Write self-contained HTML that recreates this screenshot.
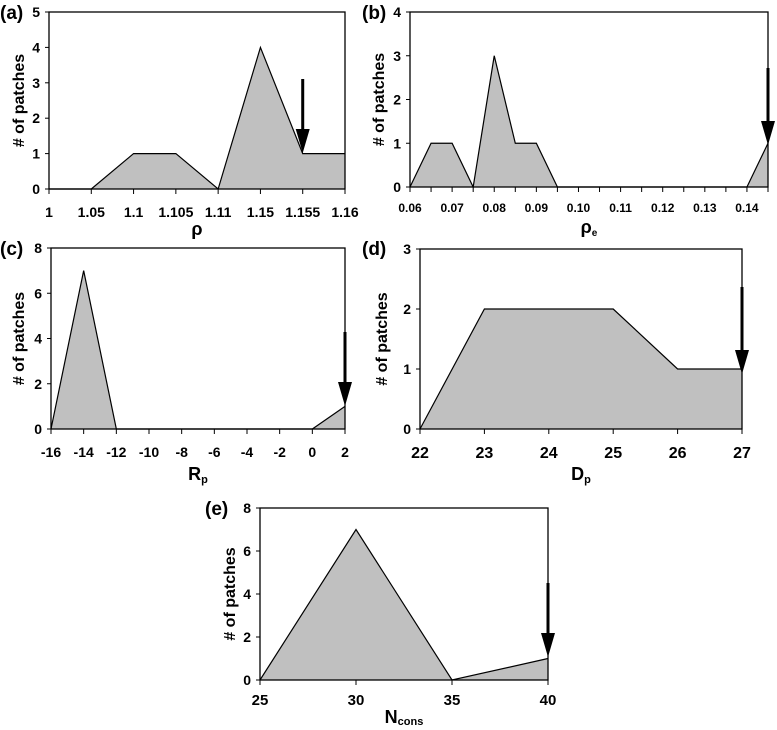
<!DOCTYPE html>
<html><head><meta charset="utf-8"><style>
body{margin:0;background:#fff;}
svg{font-family:"Liberation Sans",Arial,sans-serif;font-weight:bold;}
</style></head><body>
<svg id="fig" width="777" height="725" viewBox="0 0 777 725" xmlns="http://www.w3.org/2000/svg"></svg>
<script>
const aX=[1,1.05,1.1,1.105,1.11,1.15,1.155,1.16];
const aY=[0,0,1,1,0,4,1,1];
const aTicks=["1","1.05","1.1","1.105","1.11","1.15","1.155","1.16"];
const bX=[0.06,0.065,0.07,0.075,0.08,0.085,0.09,0.095,0.14,0.145];
const bY=[0,1,1,0,3,1,1,0,0,1];
const bTicks=["0.06","0.07","0.08","0.09","0.10","0.11","0.12","0.13","0.14"];
const cX=[-16,-14,-12,0,2];
const cY=[0,7,0,0,1];
const cTicks=[-16,-14,-12,-10,-8,-6,-4,-2,0,2];
const dX=[22,23,24,25,26,27];
const dY=[0,2,2,2,1,1];
const dTicks=[22,23,24,25,26,27];
const eX=[25,30,35,40];
const eY=[0,7,0,1];
const eTicks=[25,30,35,40];

const svg=document.getElementById('fig');
const NS='http://www.w3.org/2000/svg';
function mk(tag,attrs,parent){const e=document.createElementNS(NS,tag);for(const k in attrs)e.setAttribute(k,attrs[k]);(parent||svg).appendChild(e);return e;}
function txt(s,x,y,size,anchor,parent){const t=mk('text',{x:x,y:y,'font-size':size,'text-anchor':anchor||'middle'},parent);t.textContent=s;return t;}

function panel(o){
  const g=mk('g',{});
  
  
  const sx=v=>o.x0+(v-o.xmin)/(o.xmax-o.xmin)*(o.x1-o.x0);
  const sy=v=>o.y1-(v-0)/(o.ymax)*(o.y1-o.y0);
  let pts=o.xs.map((x,i)=>sx(x)+','+sy(o.ys[i]));
  pts.unshift(sx(o.xs[0])+','+sy(0));pts.push(sx(o.xs[o.xs.length-1])+','+sy(0));
  const area=mk('polygon',{points:pts.join(' '),fill:'#c0c0c0',stroke:'none'},g);
  
  
  const line=mk('polyline',{points:o.xs.map((x,i)=>sx(x)+','+sy(o.ys[i])).join(' '),fill:'none',stroke:'#000','stroke-width':1.2},g);
  
  
  const frame=mk('rect',{x:o.x0,y:o.y0,width:o.x1-o.x0,height:o.y1-o.y0,fill:'none',stroke:'#000','stroke-width':1.3},g);
  
  
  for(let v=0;v<=o.ymax;v+=o.ystep){
    mk('line',{x1:o.x0-4,x2:o.x0,y1:sy(v),y2:sy(v),stroke:'#000'},g);
    const t=txt(String(v),o.x0-9,sy(v)+5,14,'end',g);
    
    
  }
  const n=o.tickCount;
  for(let i=0;i<n;i++){
    const x=o.x0+i*(o.x1-o.x0)/(n-1);
    mk('line',{x1:x,x2:x,y1:o.y1,y2:o.y1+5,stroke:'#000'},g);
  }
  o.ticks.forEach((s,i)=>{
    const x=o.x0+i*o.labelEvery*(o.x1-o.x0)/(n-1);
    const t=txt(String(s),x,o.tickY,o.tickSize||14,'middle',g);
    
    
  });
  const ax=sx(o.arrowX),ab=o.arrowBottom;
  const sh=mk('line',{x1:ax,x2:ax,y1:o.arrowTop,y2:ab-20,stroke:'#000','stroke-width':3},g);
  
  
  mk('polygon',{points:(ax-7)+','+(ab-24)+' '+(ax+7)+','+(ab-24)+' '+ax+','+ab,fill:'#000'},g);
  const pl=txt('('+o.id+')',o.lx,o.ly,19,'start',g);
  
  
  const yt=txt('# of patches',0,0,16,'middle',g);
  yt.setAttribute('transform','translate('+o.ytx+','+((o.y0+o.y1)/2)+') rotate(-90)');
  
  
  const xt=mk('text',{x:(o.x0+o.x1)/2,y:o.xtY,'font-size':18,'text-anchor':'middle'},g);
  xt.innerHTML=o.xtitle;
  
  
}

panel({id:'a',xs:aX.map((v,i)=>i),ys:aY,xmin:0,xmax:7,x0:49,x1:345,y0:12,y1:189,ymax:5,ystep:1,tickCount:8,ticks:aTicks,labelEvery:1,tickY:217,arrowX:6,arrowTop:79,arrowBottom:153,lx:0,ly:19,ytx:24,xtY:235,xtitle:'ρ'});
panel({id:'b',xs:bX,ys:bY,xmin:0.06,xmax:0.145,x0:410,x1:768,y0:12,y1:187,ymax:4,ystep:1,tickCount:18,ticks:bTicks,labelEvery:2,tickY:212,tickSize:12,arrowX:0.145,arrowTop:68,arrowBottom:145,lx:362,ly:19,ytx:384,xtY:233,xtitle:'ρ<tspan font-size="10" dy="3">e</tspan>'});
panel({id:'c',xs:cX,ys:cY,xmin:-16,xmax:2,x0:51,x1:345,y0:248,y1:429,ymax:8,ystep:2,tickCount:10,ticks:cTicks,labelEvery:1,tickY:457,arrowX:2,arrowTop:332,arrowBottom:406,lx:0,ly:255,ytx:24,xtY:480,xtitle:'R<tspan font-size="11" dy="3">p</tspan>'});
panel({id:'d',xs:dX,ys:dY,xmin:22,xmax:27,x0:420,x1:742,y0:249,y1:429,ymax:3,ystep:1,tickCount:6,ticks:dTicks,labelEvery:1,tickY:458,tickSize:16,arrowX:27,arrowTop:287,arrowBottom:374,lx:362,ly:255,ytx:387,xtY:480,xtitle:'D<tspan font-size="11" dy="3">p</tspan>'});
panel({id:'e',xs:eX,ys:eY,xmin:25,xmax:40,x0:260,x1:548,y0:508,y1:680,ymax:8,ystep:2,tickCount:4,ticks:eTicks,labelEvery:1,tickY:705,tickSize:15,arrowX:40,arrowTop:583,arrowBottom:657,lx:205,ly:515,ytx:235,xtY:723,xtitle:'N<tspan font-size="11" dy="2">cons</tspan>'});
</script>
</body></html>
